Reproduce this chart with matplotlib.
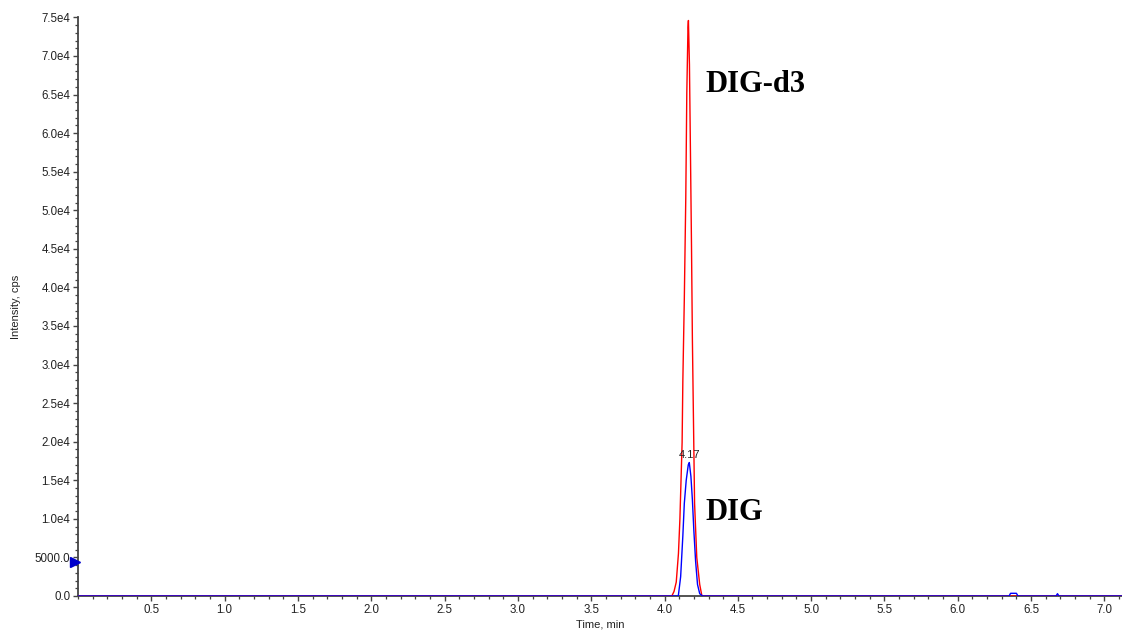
import matplotlib
matplotlib.use("Agg")
import matplotlib.pyplot as plt
import matplotlib.transforms as mtransforms
from matplotlib.ticker import MultipleLocator, FixedLocator, FuncFormatter

# ---- data ----
red_time = [0.0, 4.05, 4.065, 4.08, 4.095, 4.105, 4.12, 4.125, 4.135, 4.145,
            4.152, 4.160, 4.163, 4.170, 4.177, 4.184, 4.190, 4.198, 4.205,
            4.22, 4.24, 4.255, 7.12]
red_int = [0, 0, 600, 1800, 5500, 10000, 19900, 27900, 38500, 51600,
           65200, 73700, 74600, 68900, 57300, 45400, 33400, 22000, 12000,
           5000, 1500, 0, 0]

blue_time = [0.0, 4.094, 4.11, 4.125, 4.135, 4.148, 4.162, 4.169, 4.18, 4.19,
             4.20, 4.212, 4.225, 4.24, 4.26, 6.35, 6.36, 6.40, 6.41,
             6.67, 6.68, 6.69, 7.12]
blue_int = [0, 0, 2500, 7800, 12000, 15000, 17000, 17300, 15500, 12500,
            8500, 4500, 1500, 300, 0, 0, 350, 350, 0,
            0, 300, 0, 0]

peak_label_time = 4.17
peak_label_text = "4.17"
marker_level = 4470

y_ticks = [0, 5000, 10000, 15000, 20000, 25000, 30000, 35000, 40000, 45000,
           50000, 55000, 60000, 65000, 70000, 75000]
x_ticks = [0.5, 1.0, 1.5, 2.0, 2.5, 3.0, 3.5, 4.0, 4.5, 5.0, 5.5, 6.0, 6.5, 7.0]

# ---- figure ----
plt.rcParams['font.family'] = ['Liberation Sans', 'DejaVu Sans']
fig = plt.figure(figsize=(11.22, 6.33), dpi=100)
ax = fig.add_axes([78.0 / 1122, 37.0 / 633, (1122 - 78.0) / 1122, (596 - 17.4) / 633])

ax.plot(red_time, red_int, color='#ff0000', lw=1.0, zorder=2)
ax.plot(blue_time, blue_int, color='#0000ff', lw=1.0, zorder=2.2)

ax.set_xlim(0, 7.12)
ax.set_ylim(0, 75000)

for s in ['top', 'right']:
    ax.spines[s].set_visible(False)
for s in ['left', 'bottom']:
    ax.spines[s].set_color('#444444')
    ax.spines[s].set_linewidth(1.3)
    ax.spines[s].set_zorder(1.5)

ax.xaxis.set_major_locator(FixedLocator(x_ticks))
ax.xaxis.set_minor_locator(MultipleLocator(0.1))
ax.yaxis.set_major_locator(FixedLocator(y_ticks))
ax.yaxis.set_minor_locator(MultipleLocator(1000))

def yfmt(v, pos):
    if v == 0:
        return "0.0"
    if v < 10000:
        return "%.1f" % v
    return "%.1fe4" % (v / 10000.0)

ax.yaxis.set_major_formatter(FuncFormatter(yfmt))
ax.xaxis.set_major_formatter(FuncFormatter(lambda v, p: "%.1f" % v))

ax.tick_params(which='major', direction='out', length=3.5, width=1.0,
               colors='#444444', labelsize=8.3, labelcolor='#222222', pad=2)
ax.tick_params(which='minor', direction='out', length=2, width=0.9, colors='#444444')

ax.set_xlabel("Time, min", fontsize=8, color='#222222', labelpad=3)
ax.set_ylabel("Intensity, cps", fontsize=8, color='#222222', labelpad=10)

# peak apex label
ax.text(peak_label_time, 18300, peak_label_text, fontsize=8, color='#222222',
        ha='center', va='center')

# compound labels
ax.text(4.28, 65300, "DIG-d3", fontsize=22, fontweight='bold',
        family='Liberation Serif', color='black', ha='left', va='baseline')
ax.text(4.28, 9850, "DIG", fontsize=22, fontweight='bold',
        family='Liberation Serif', color='black', ha='left', va='baseline')

# blue triangle marker on the y axis
mtrans = mtransforms.offset_copy(ax.transData, fig=fig, x=-3.5, y=0, units='dots')
ax.plot([0], [marker_level], marker='>', color='#0000cc', markersize=7,
        clip_on=False, zorder=5, transform=mtrans)

fig.savefig("out.png", dpi=100)
